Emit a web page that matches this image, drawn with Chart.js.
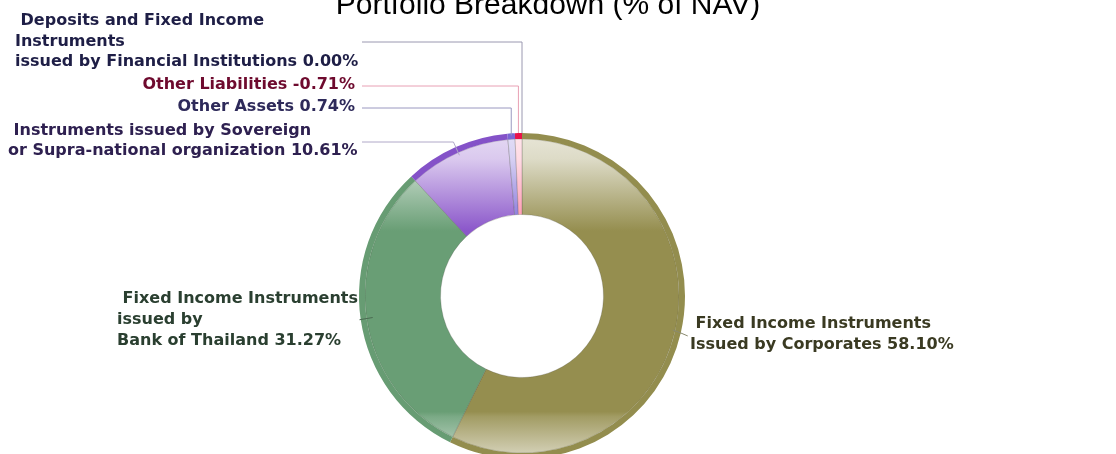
<!DOCTYPE html>
<html>
<head>
<meta charset="utf-8" />
<script src="https://cdn.jsdelivr.net/npm/chart.js"></script>
<style>
  html, body { margin: 0; padding: 0; background: #fff; overflow: hidden; }
  body { width: 1116px; height: 454px; position: relative; }
  #wrap { position: absolute; left: 0; top: -20px; width: 1116px; height: 500px; }
</style>
</head>
<body>
<div id="wrap"><canvas id="pie"></canvas></div>

<script>
  // slices, clockwise from 12 o'clock
  const categories = [
    "Fixed Income Instruments Issued by Corporates",
    "Fixed Income Instruments issued by Bank of Thailand",
    "Instruments issued by Sovereign or Supra-national organization",
    "Other Assets",
    "Other Liabilities",
    "Deposits and Fixed Income Instruments issued by Financial Institutions"
  ];
  const values = [58.10, 31.27, 10.61, 0.74, -0.71, 0.00];
  const baseColors = ["#958E4F", "#699E75", "#8B57CA", "#7E6CD8", "#FF8FAA", "#9A9A9A"];
  const rimColors = ["#938D4E", "#679C73", "#8452C8", "#7A66D4", "#E8124A", "#9A9A9A"];

  // label text for each slice (same order)
  const labelLines = [
    [" Fixed Income Instruments", "Issued by Corporates 58.10%"],
    [" Fixed Income Instruments", "issued by", "Bank of Thailand 31.27%"],
    [" Instruments issued by Sovereign", "or Supra-national organization 10.61%"],
    ["Other Assets 0.74%"],
    ["Other Liabilities -0.71%"],
    [" Deposits and Fixed Income", "Instruments", "issued by Financial Institutions 0.00%"]
  ];
  const labelColors = ["#3A3A22", "#2A3F30", "#2E2050", "#2E2A5A", "#6E0A2E", "#1E1E46"];
  const lineColors = ["#8a8a70", "#4a6a50", "#b0a8c8", "#9a98c0", "#e8a0b4", "#9a98b0"];

  function mix(hex, t) {
    const n = parseInt(hex.slice(1), 16);
    const r = (n >> 16) & 255, g = (n >> 8) & 255, b = n & 255;
    const f = (c) => Math.round(c + (255 - c) * t);
    return `rgb(${f(r)},${f(g)},${f(b)})`;
  }

  function glossFill(context) {
    const chart = context.chart;
    const area = chart.chartArea;
    const base = baseColors[context.dataIndex];
    if (!area) return base;
    const g = chart.ctx.createLinearGradient(0, area.top, 0, area.bottom);
    g.addColorStop(0, mix(base, 0.78));
    g.addColorStop(0.08, mix(base, 0.68));
    g.addColorStop(0.3, base);
    g.addColorStop(0.855, base);
    g.addColorStop(0.87, mix(base, 0.12));
    g.addColorStop(1, mix(base, 0.65));
    return g;
  }

  // label layout, offsets from the doughnut centre
  const labelPos = [
    { x: 168, y: 28, align: "left", gap: 21 },
    { x: -405, y: 3, align: "left", gap: 21 },
    { x: -514, y: -165, align: "left", gap: 20 },
    { x: -167, y: -189, align: "right", gap: 20 },
    { x: -167, y: -211, align: "right", gap: 20 },
    { x: -507, y: -275, align: "left", gap: 20.5 }
  ];

  const labelsPlugin = {
    id: "sliceLabels",
    afterDraw(chart) {
      const ctx = chart.ctx;
      const arcs = chart.getDatasetMeta(0).data;
      const c = arcs[0].getProps(["x", "y", "outerRadius"], true);
      const cx = c.x, cy = c.y, R = c.outerRadius;

      ctx.save();
      // title
      ctx.font = "30px 'Liberation Sans', Arial, sans-serif";
      ctx.fillStyle = "#000";
      ctx.textAlign = "center";
      ctx.textBaseline = "alphabetic";
      ctx.fillText("Portfolio Breakdown (% of NAV)", cx + 26, 34);

      ctx.font = "bold 16px 'DejaVu Sans', Verdana, sans-serif";
      ctx.textBaseline = "middle";
      labelLines.forEach((lines, i) => {
        const p = labelPos[i];
        ctx.fillStyle = labelColors[i];
        ctx.textAlign = p.align;
        lines.forEach((t, k) => ctx.fillText(t, cx + p.x, cy + p.y + k * p.gap));
      });

      // leader lines
      const a = arcs.map((el) => {
        const q = el.getProps(["startAngle", "endAngle"], true);
        return (q.startAngle + q.endAngle) / 2;
      });
      const pt = (ang, r) => [cx + Math.cos(ang) * r, cy + Math.sin(ang) * r];
      ctx.lineWidth = 1;

      // top-left stack: horizontal then down to the slice
      [[5, -255, R], [4, -211, R], [3, -189, R - 2]].forEach(([i, dy, r]) => {
        const [ex, ey] = pt(a[i], r);
        ctx.strokeStyle = lineColors[i];
        ctx.beginPath();
        ctx.moveTo(cx - 160, cy + dy + 1);
        ctx.lineTo(ex, cy + dy + 1);
        ctx.lineTo(ex, ey);
        ctx.stroke();
      });
      {
        const [ex, ey] = pt(a[2], R - 9);
        ctx.strokeStyle = lineColors[2];
        ctx.beginPath();
        ctx.moveTo(cx - 160, cy - 154);
        ctx.lineTo(ex - 6, cy - 154);
        ctx.lineTo(ex, ey);
        ctx.stroke();
      }
      // short ticks across the rim of the two big slices
      [[1, 12, -2], [0, 7, 3]].forEach(([i, dx, dy]) => {
        const [ex, ey] = pt(a[i], R);
        ctx.strokeStyle = lineColors[i];
        ctx.beginPath();
        ctx.moveTo(ex - dx * 0.1, ey - dy * 0.1);
        ctx.lineTo(ex + dx, ey + dy);
        ctx.stroke();
        if (i === 0) {
          ctx.beginPath();
          ctx.moveTo(ex, ey);
          ctx.lineTo(ex - 8, ey - 3);
          ctx.stroke();
        }
      });
      ctx.restore();
    }
  };

  new Chart(document.getElementById("pie"), {
    type: "doughnut",
    data: {
      labels: categories,
      datasets: [
        {
          data: values,
          backgroundColor: rimColors,
          borderWidth: 0,
          weight: 6
        },
        {
          data: values,
          backgroundColor: glossFill,
          borderColor: "rgba(70,70,60,0.35)",
          borderWidth: 0.7,
          weight: 76
        }
      ]
    },
    options: {
      responsive: true,
      maintainAspectRatio: false,
      animation: false,
      cutout: "50%",
      layout: { padding: { left: 0, right: 72, top: 153, bottom: 21 } },
      plugins: {
        legend: { display: false },
        title: { display: false },
        tooltip: { enabled: false }
      }
    },
    plugins: [labelsPlugin]
  });
</script>
</body>
</html>
